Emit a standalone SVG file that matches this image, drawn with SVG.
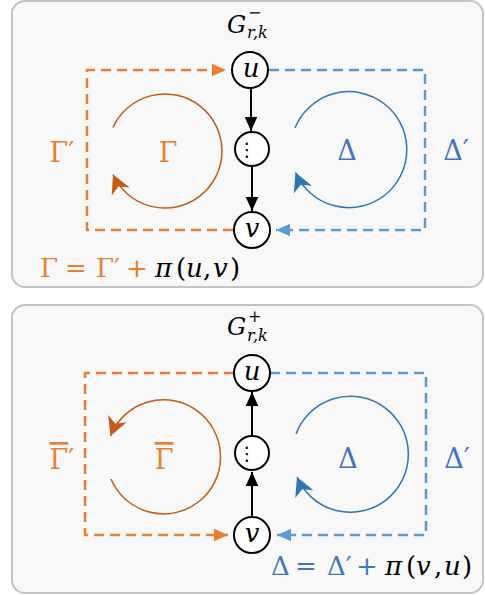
<svg xmlns="http://www.w3.org/2000/svg" width="485" height="595" viewBox="0 0 485 595">
<defs>
<style>
.panel{fill:#f8f8f8;stroke:#c4c4c4;stroke-width:2}
.node{fill:#ffffff;stroke:#000000;stroke-width:2}
.lbl{font-family:"DejaVu Serif",serif;font-style:italic;font-size:26px;fill:#000;text-anchor:middle}
.dots{font-family:"DejaVu Sans",sans-serif;font-size:19px;fill:#000;text-anchor:middle}
.edge{stroke:#000;stroke-width:2;fill:none;marker-end:url(#ab)}
.od{stroke:#ED7D31;stroke-width:2.5;fill:none;stroke-dasharray:10,6}
.bd{stroke:#5B9BD5;stroke-width:2.5;fill:none;stroke-dasharray:10,6}
.oarc{stroke:#C55A11;stroke-width:1.5;fill:none;marker-end:url(#ao2)}
.barc{stroke:#2E75B6;stroke-width:1.5;fill:none;marker-end:url(#ab2)}
.g{font-family:"DejaVu Serif",serif;font-size:27px}
.f{font-family:"DejaVu Serif",serif;font-size:26px}
.or{fill:#ED7D31}
.bl{fill:#4472C4}
.k{fill:#000}
.it{font-style:italic}
.gl{font-family:"DejaVu Serif",serif;font-style:italic;fill:#000}
</style>
<marker id="ab" markerUnits="userSpaceOnUse" markerWidth="14" markerHeight="14" viewBox="-10 -5 10 10" refX="0" refY="0" orient="auto"><path d="M0,0 L-10,-4.5 L-10,4.5 z" fill="#000"/></marker>
<marker id="ao" markerUnits="userSpaceOnUse" markerWidth="14" markerHeight="14" viewBox="-10 -5 10 10" refX="0" refY="0" orient="auto"><path d="M0,0 L-10,-4.5 L-10,4.5 z" fill="#ED7D31"/></marker>
<marker id="abl" markerUnits="userSpaceOnUse" markerWidth="14" markerHeight="14" viewBox="-10 -5 10 10" refX="0" refY="0" orient="auto"><path d="M0,0 L-10,-4.5 L-10,4.5 z" fill="#5B9BD5"/></marker>
<marker id="ao2" markerUnits="userSpaceOnUse" markerWidth="22" markerHeight="22" viewBox="-18 -10 20 20" refX="0" refY="0" orient="auto"><path d="M0,0 L-17,-9 L-12,0 L-17,9 z" fill="#C55A11"/></marker>
<marker id="ab2" markerUnits="userSpaceOnUse" markerWidth="22" markerHeight="22" viewBox="-18 -10 20 20" refX="0" refY="0" orient="auto"><path d="M0,0 L-17,-9 L-12,0 L-17,9 z" fill="#2E75B6"/></marker>
</defs>

<rect class="panel" x="12" y="1" width="471" height="286" rx="13"/>
<rect class="panel" x="12" y="305" width="471" height="288" rx="13"/>

<g id="connectors">
<path class="od" d="M233,230 H87 V70 H226" marker-end="url(#ao)"/>
<path class="bd" d="M269,70 H425 V230 H276" marker-end="url(#abl)"/>
<path class="edge" d="M251,88 V131"/>
<path class="edge" d="M252,167 V211"/>
<path class="oarc" d="M113,127.5 A57,57 0 1 1 113,174.5"/>
<path class="barc" d="M295,128 A58,58 0 1 1 295.5,172.5"/>

<path class="od" d="M234,373 H85 V535 H228" marker-end="url(#ao)"/>
<path class="bd" d="M270,373 H426 V535 H277" marker-end="url(#abl)"/>
<path class="edge" d="M252,517 V472"/>
<path class="edge" d="M252,435 V392"/>
<path class="oarc" d="M111,479 A57,57 0 1 0 110.5,436"/>
<path class="barc" d="M296,434 A58,58 0 1 1 297,477"/>
</g>

<g id="label-top">
<text class="gl" x="227" y="33" font-size="24">G<tspan x="248" y="18" font-size="16" font-style="normal">−</tspan><tspan x="247" y="38" font-size="16">r,k</tspan></text>
</g>
<g id="node-u-top"><circle class="node" cx="250" cy="70" r="18"/><text class="lbl" x="251" y="77">u</text></g>
<g id="node-mid-top"><circle class="node" cx="252" cy="149" r="17"/><text class="dots" x="247" y="156">⋮</text></g>
<g id="node-v-top"><circle class="node" cx="252" cy="230" r="18"/><text class="lbl" x="252" y="237">v</text></g>

<g id="labels-top">
<text class="g or" x="62" y="162" text-anchor="middle">Γ′</text>
<text class="g or" x="168" y="162" text-anchor="middle">Γ</text>
<text class="g bl" x="347" y="160" text-anchor="middle">Δ</text>
<text class="g bl" x="456" y="160" text-anchor="middle">Δ′</text>
<text class="f" y="277"><tspan class="or" x="40">Γ</tspan><tspan class="or" x="65">=</tspan><tspan class="or" x="96">Γ′</tspan><tspan class="or" x="126">+</tspan><tspan class="k it" x="155">π</tspan><tspan class="k" x="176">(</tspan><tspan class="k it" x="186">u</tspan><tspan class="k" x="203">,</tspan><tspan class="k it" x="213">v</tspan><tspan class="k" x="230">)</tspan></text>
</g>

<g id="label-bottom">
<text class="gl" x="227" y="335" font-size="24">G<tspan x="248" y="322" font-size="16" font-style="normal">+</tspan><tspan x="247" y="341" font-size="16">r,k</tspan></text>
</g>
<g id="node-u-bot"><circle class="node" cx="252" cy="373" r="18"/><text class="lbl" x="252" y="380">u</text></g>
<g id="node-mid-bot"><circle class="node" cx="252" cy="453" r="17"/><text class="dots" x="247" y="460">⋮</text></g>
<g id="node-v-bot"><circle class="node" cx="252" cy="535" r="18"/><text class="lbl" x="252" y="542">v</text></g>

<g id="labels-bottom">
<text class="g or" x="62" y="469" text-anchor="middle"><tspan text-decoration="overline">Γ</tspan>′</text>
<text class="g or" x="164" y="469" text-anchor="middle" text-decoration="overline">Γ</text>
<text class="g bl" x="348" y="468" text-anchor="middle">Δ</text>
<text class="g bl" x="457" y="468" text-anchor="middle">Δ′</text>
<text class="f" y="575"><tspan class="bl" x="271">Δ</tspan><tspan class="bl" x="295">=</tspan><tspan class="bl" x="327">Δ′</tspan><tspan class="bl" x="356">+</tspan><tspan class="k it" x="385">π</tspan><tspan class="k" x="406">(</tspan><tspan class="k it" x="416">v</tspan><tspan class="k" x="434">,</tspan><tspan class="k it" x="444">u</tspan><tspan class="k" x="462">)</tspan></text>
</g>
</svg>
